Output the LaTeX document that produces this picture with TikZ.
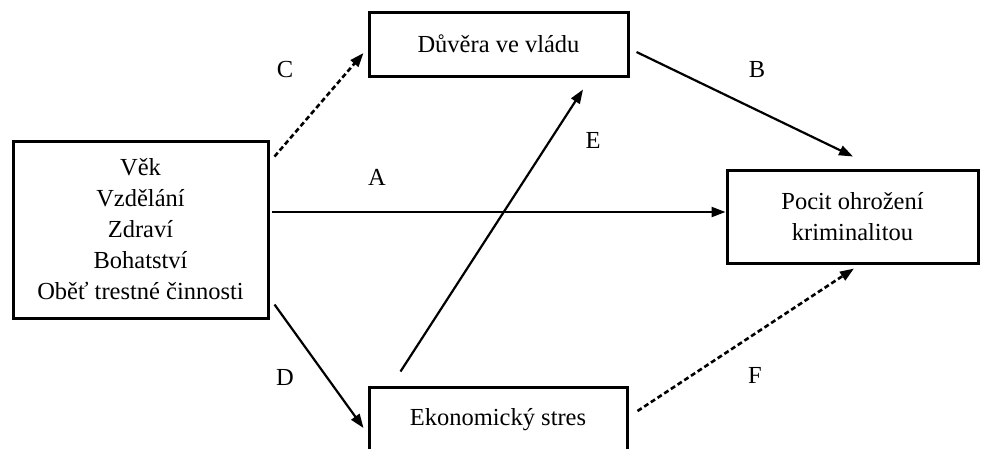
\documentclass[tikz,border=0pt]{standalone}
\usepackage{fontspec}
\setmainfont{Liberation Serif}
\usetikzlibrary{arrows.meta,calc}
\begin{document}
\begin{tikzpicture}[x=1pt,y=-1pt,
  box/.style={draw=black,line width=3pt,fill=white,inner sep=0pt,align=center,
    font=\fontsize{24.5}{31}\selectfont},
  conn/.style={line width=2.2pt,-{Triangle[length=14pt,width=10pt]}},
  dconn/.style={conn,dash pattern=on 5pt off 3pt,line width=2.6pt},
  lbl/.style={font=\fontsize{24.5}{31}\selectfont,inner sep=0pt}]
\useasboundingbox (0,0) rectangle (981,448);
\clip (0,0) rectangle (981,448);
\fill[white] (0,0) rectangle (981,448);

\node[box,minimum width=255pt,minimum height=177pt] (left) at (140.5,229.5)
  {Věk\\Vzdělání\\Zdraví\\Bohatství\\Oběť trestné činnosti};
\node[box,minimum width=259pt,minimum height=64pt] (top) at (498.5,44) {Důvěra ve vládu};
\node[box,minimum width=258pt,minimum height=66pt] (bottom) at (498,420) {Ekonomický stres};
\node[box,minimum width=251pt,minimum height=93pt] (right) at (852.5,216.5)
  {Pocit ohrožení\\kriminalitou};

\draw[dconn] ($(left.north east)+(5,17)$) -- ($(top.west)+(-4,9)$);
\draw[conn] ($(left.east)+(2,-17.5)$) -- ($(right.west)+(0,-4.5)$);
\draw[conn] ($(left.south east)+(5,-15)$) -- ($(bottom.west)+(-4,8)$);
\draw[conn] ($(bottom.north west)+(33,-14)$) -- ($(top.south)+(84.5,12)$);
\draw[conn] ($(top.east)+(7,8)$) -- ($(right.north)+(0.5,-12)$);
\draw[dconn] ($(bottom.east)+(9,-9)$) -- ($(right.south)+(1.5,4)$);

\node[lbl] (lC) at (285,70) {C};
\node[lbl] (lA) at (377,177) {A};
\node[lbl] (lD) at (285,377) {D};
\node[lbl] (lE) at (593,140) {E};
\node[lbl] (lB) at (757,70) {B};
\node[lbl] (lF) at (755,375) {F};
\end{tikzpicture}
\end{document}
